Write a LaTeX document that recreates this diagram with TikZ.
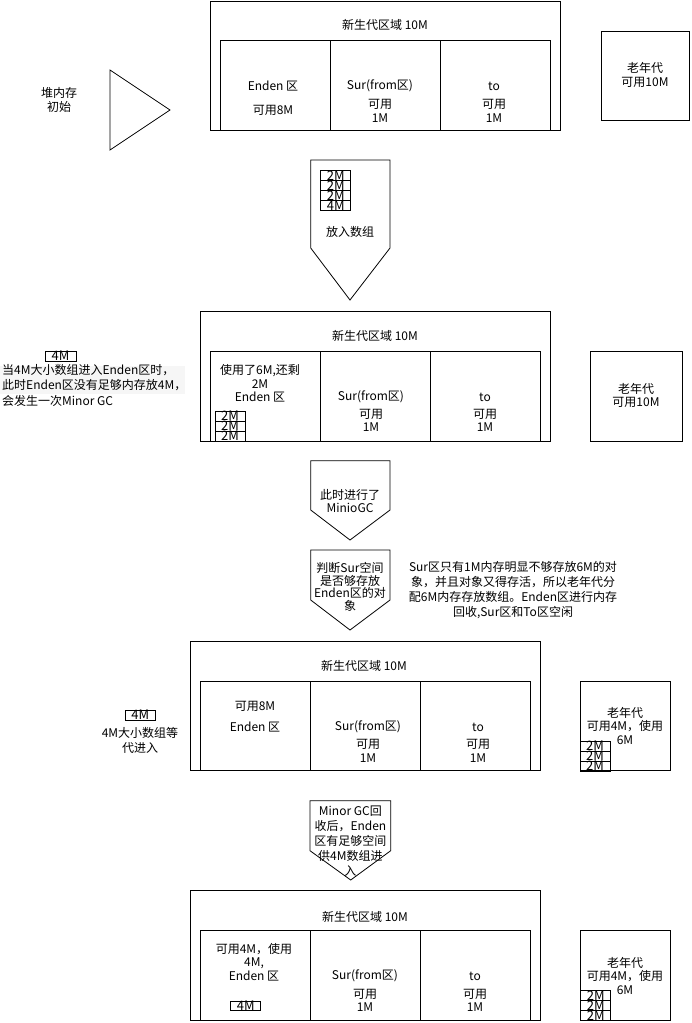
\documentclass[tikz,border=0pt]{standalone}
\usepackage{fontspec}
\setmainfont{Noto Sans CJK SC}
\definecolor{hlgray}{RGB}{246,246,246}
\begin{document}
\begin{tikzpicture}[x=1pt,y=-1pt,line join=miter,
	box/.style={draw,line width=0.8pt},
	txt/.style={font=\fontsize{12}{13.5}\selectfont,align=center,inner sep=0pt},
	arrtxt/.style={font=\fontsize{12}{12.5}\selectfont,align=center,inner sep=0pt},
	celltxt/.style={font=\fontsize{13}{13}\selectfont,inner sep=0pt}]
	\useasboundingbox (0,0) rectangle (691,1023);
	% ---- 1: initial heap
	\draw[box] (110,70)-- (170,110)-- (110,150)-- cycle;
	\node[txt] (heap) at (59,100) {堆内存\\初始};
	\draw[box] (210,1) rectangle (560,130);
	\draw[box] (220,40) rectangle (330,130);
	\draw[box] (330,40) rectangle (440,130);
	\draw[box] (440,40) rectangle (550,130);
	\node[txt] (young1) at (385,25) {新生代区域 10M};
	\node[txt] (eden1) at (273,86) {Enden 区};
	\node[txt] (edenfree1) at (273,110) {可用8M};
	\node[txt] (sur1) at (380,86) {Sur(from区)};
	\node[txt] (surfree1) at (380,111) {可用\\1M};
	\node[txt] (to1) at (494,86) {to};
	\node[txt] (tofree1) at (494,111) {可用\\1M};
	\draw[box] (601,31) rectangle (689,120);
	\node[txt] (old1) at (645,75) {老年代\\可用10M};
	% ---- arrow: put arrays
	\draw[box] (310.7,160)-- (390,160)-- (390,248)-- (350,300)-- (310.7,248)-- cycle;
	\foreach \t [count=\i from 0] in {2M,2M,2M,4M}{
		\draw[box] (320.7,170.7+10*\i) rectangle ++(30,10);
		\node[celltxt] (arr\i) at (335.7,175.7+10*\i) {\t};
	}
	\node[txt] (put) at (350,232) {放入数组};
	% ---- 2: 4M array comes in
	\fill[hlgray] (0,366) rectangle (185,394);
	\draw[box] (45,351) rectangle (76,361);
	\node[celltxt] (big2) at (60.5,356) {4M};
	\node[font=\fontsize{12}{15.5}\selectfont,align=left,inner sep=0pt,anchor=north west] (note2) at (2,364) {当4M大小数组进入Enden区时，\\此时Enden区没有足够内存放4M，\\会发生一次Minor GC};
	\draw[box] (200,311) rectangle (550,441);
	\draw[box] (210,351) rectangle (320,441);
	\draw[box] (320,351) rectangle (430,441);
	\draw[box] (430,351) rectangle (540,441);
	\node[txt] (young2) at (375,336) {新生代区域 10M};
	\node[txt] (eden2) at (260,383.5) {使用了6M,还剩\\2M\\Enden 区};
	\foreach \i in {0,1,2}{
		\draw[box] (215,411+10*\i) rectangle ++(30,10);
		\node[celltxt] (ed2\i) at (230,416+10*\i) {2M};
	}
	\node[txt] (sur2) at (371,397) {Sur(from区)};
	\node[txt] (surfree2) at (371,420.5) {可用\\1M};
	\node[txt] (to2) at (485,397) {to};
	\node[txt] (tofree2) at (485,420.5) {可用\\1M};
	\draw[box] (590,351) rectangle (682,441);
	\node[txt] (old2) at (636,395.5) {老年代\\可用10M};
	% ---- arrows: minor gc
	\draw[box] (310.7,460.7)-- (390,460.7)-- (390,510)-- (350,540)-- (310.7,510)-- cycle;
	\node[arrtxt] (gc) at (350,501) {此时进行了\\MinioGC};
	\draw[box] (310.7,550)-- (390,550)-- (390,600)-- (350,630)-- (310.7,600)-- cycle;
	\node[arrtxt] (check) at (350,586.7) {判断Sur空间\\是否够存放\\Enden区的对\\象};
	\node[font=\fontsize{12}{15}\selectfont,align=center,inner sep=0pt] (why) at (513,590.5) {Sur区只有1M内存明显不够存放6M的对\\象，并且对象又得存活，所以老年代分\\配6M内存存放数组。Enden区进行内存\\回收,Sur区和To区空闲};
	% ---- 3: after gc
	\draw[box] (125.5,710) rectangle (155,720);
	\node[celltxt] (big3) at (140.2,715) {4M};
	\node[font=\fontsize{12}{15}\selectfont,align=center,inner sep=0pt] (wait3) at (140,740.5) {4M大小数组等\\代进入};
	\draw[box] (190,641) rectangle (540,770);
	\draw[box] (200,681) rectangle (310.5,770);
	\draw[box] (310.5,681) rectangle (420.7,770);
	\draw[box] (420.7,681) rectangle (530,770);
	\node[txt] (young3) at (364,666) {新生代区域 10M};
	\node[txt] (edenfree3) at (255,706) {可用8M};
	\node[txt] (eden3) at (255,727) {Enden 区};
	\node[txt] (sur3) at (368,727) {Sur(from区)};
	\node[txt] (surfree3) at (368,751) {可用\\1M};
	\node[txt] (to3) at (478,727) {to};
	\node[txt] (tofree3) at (478,751) {可用\\1M};
	\draw[box] (580,681) rectangle (670,770);
	\node[txt] (old3) at (625,726) {老年代\\可用4M，使用\\6M};
	\foreach \i in {0,1,2}{
		\draw[box] (580,741+10*\i) rectangle ++(30,10);
		\node[celltxt] (od3\i) at (595,746+10*\i) {2M};
	}
	% ---- arrow: enough space now
	\draw[box] (310,800.7)-- (390.7,800.7)-- (390.7,850.7)-- (350.7,880)-- (310,850.7)-- cycle;
	\node[font=\fontsize{12}{15}\selectfont,align=center,inner sep=0pt] (space) at (350.4,841) {Minor GC回\\收后，Enden\\区有足够空间\\供4M数组进\\入};
	% ---- 4: 4M array placed
	\draw[box] (190.7,890.7) rectangle (540.7,1020);
	\draw[box] (200.7,930.7) rectangle (310.7,1020);
	\draw[box] (310.7,930.7) rectangle (420.7,1020);
	\draw[box] (420.7,930.7) rectangle (530.7,1020);
	\node[txt] (young4) at (365,916.7) {新生代区域 10M};
	\node[txt] (eden4) at (254,962) {可用4M，使用\\4M,\\Enden 区};
	\draw[box] (230.7,1001.7) rectangle (260.7,1010.7);
	\node[celltxt] (big4) at (245.7,1006.2) {4M};
	\node[txt] (sur4) at (365,976) {Sur(from区)};
	\node[txt] (surfree4) at (365,1000.5) {可用\\1M};
	\node[txt] (to4) at (475,976) {to};
	\node[txt] (tofree4) at (475,1000.5) {可用\\1M};
	\draw[box] (580.7,930.7) rectangle (670.7,1020);
	\node[txt] (old4) at (625,976) {老年代\\可用4M，使用\\6M};
	\foreach \i in {0,1,2}{
		\draw[box] (580.7,990.7+10*\i) rectangle ++(30,10);
		\node[celltxt] (od4\i) at (595.7,995.7+10*\i) {2M};
	}
\end{tikzpicture}
\end{document}
